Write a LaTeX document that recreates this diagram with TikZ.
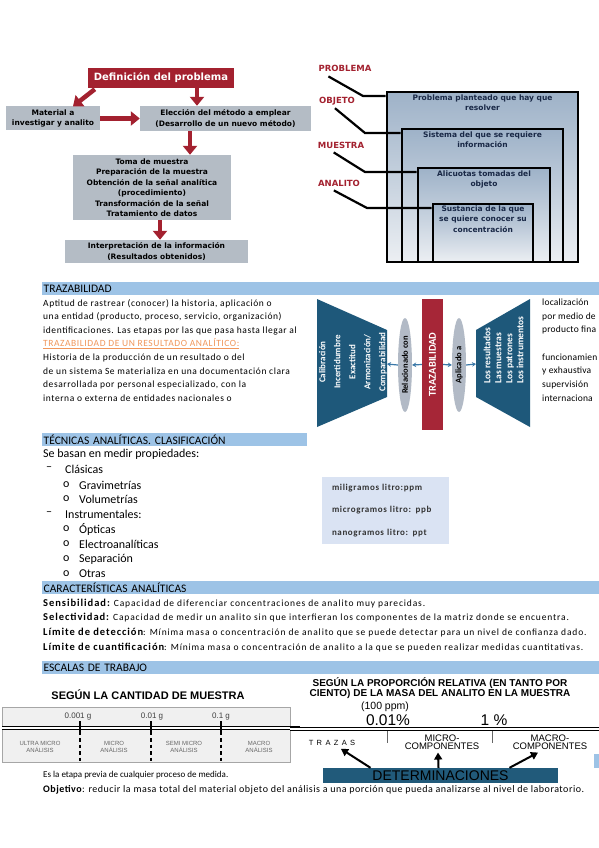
\documentclass[tikz,border=0pt]{standalone}
\usepackage{fontspec}
\setmainfont{Carlito}
\newfontfamily\verdfont{DejaVu Sans}
\newfontfamily\arialfont{Liberation Sans}
\usetikzlibrary{positioning,shapes.geometric,arrows.meta}

\definecolor{probred}{RGB}{163,33,47}
\definecolor{flowgray}{RGB}{180,188,197}
\definecolor{nestblue}{RGB}{158,178,200}
\definecolor{nestlow}{RGB}{236,239,243}
\definecolor{navytxt}{RGB}{25,40,70}
\definecolor{headblue}{RGB}{157,195,230}
\definecolor{trapblue}{RGB}{30,88,122}
\definecolor{ellgray}{RGB}{178,186,198}
\definecolor{trazred}{RGB}{166,38,55}
\definecolor{arrblue}{RGB}{58,120,168}
\definecolor{unitblue}{RGB}{218,227,243}
\definecolor{linkorange}{RGB}{240,150,90}
\definecolor{detblue}{RGB}{33,90,122}

\newcommand{\fsz}[2]{\fontsize{#1}{#2}\selectfont}
\newcommand{\spaced}[1]{\addfontfeature{LetterSpace=#1}}

\begin{document}
\begin{tikzpicture}[x=1pt, y=-1pt, every node/.style={inner sep=0pt},
  redbox/.style={fill=probred, text=white, minimum width=146, minimum height=20, font=\verdfont\bfseries\fsz{10}{12}},
  flowbox/.style={fill=flowgray, align=center, font=\verdfont\bfseries\fsz{7.5}{10.5}},
  redarrow/.style={probred, line width=4.5, -{Triangle[length=9pt, width=14pt]}},
  lbltxt/.style={text=probred, font=\verdfont\bfseries\fsz{8.5}{10}},
  lblline/.style={line width=2.2},
  nestbox/.style={draw=black, line width=2.6, top color=nestblue, bottom color=nestlow},
  nesttxt/.style={anchor=north, text=navytxt, align=center, font=\verdfont\bfseries\fsz{7.5}{10.3}},
  headbar/.style={fill=headblue, anchor=north west, minimum height=13, inner xsep=1.5, align=left, font=\fsz{11.5}{11.5}},
  bodytxt/.style={anchor=west, font=\fsz{9.5}{13.6}\spaced{6}},
  caractxt/.style={anchor=west, font=\fsz{9.5}{12}\spaced{9}},
  listtxt/.style={anchor=west, font=\fsz{12}{12}},
  traptxt/.style={text=white, align=center, font=\bfseries\fsz{9}{15}},
  ellnode/.style={ellipse, fill=ellgray, minimum width=94, minimum height=14, font=\bfseries\fsz{8.5}{10}},
  bluearrow/.style={arrblue, line width=1.2, -{Stealth[length=4pt, width=4.5pt]}},
  unitbox/.style={fill=unitblue, minimum width=127, minimum height=67, text width=107, align=left, text=black!80, font=\bfseries\fsz{9}{22.5}\spaced{7}},
  esctitle/.style={align=center, font=\arialfont\bfseries\fsz{10}{10}},
  scalelbl/.style={text=black!75, font=\arialfont\fsz{8}{9}},
  smalllbl/.style={text=black!60, align=center, font=\arialfont\fsz{6}{6.5}},
  complbl/.style={align=center, font=\arialfont\fsz{9.5}{8}},
  scaleline/.style={double, double distance=2.6pt, line width=0.9},
  blkarrow/.style={line width=2, -{Triangle[length=7pt, width=8pt]}}]

\useasboundingbox (0,0) rectangle (599,848);
\fill[white] (0,0) rectangle (599,848);
\clip (0,0) rectangle (599,848);

% ----------------------------------------------------
% 1. Definición del problema
% ----------------------------------------------------
\node[redbox] (defprob) at (161,78) {Definición del problema};
\node[flowbox, minimum width=94, minimum height=24] (material) at (53,118.5) {Material a\\investigar y analito};
\node[flowbox, minimum width=171, minimum height=25] (eleccion) at (225.5,118.5) {Elección del método a emplear\\(Desarrollo de un nuevo método)};
\node[flowbox, minimum width=158, minimum height=65] (toma) at (152,187.5) {Toma de muestra\\Preparación de la muestra\\Obtención de la señal analítica\\(procedimiento)\\Transformación de la señal\\Tratamiento de datos};
\node[flowbox, minimum width=183, minimum height=23] (interp) at (156.5,251.5) {Interpretación de la información\\(Resultados obtenidos)};

\draw[redarrow] ([xshift=7,yshift=-1]defprob.south west) -- ([xshift=20]material.north);
\draw[redarrow] ([xshift=36]defprob.south) -- ([xshift=36]defprob.south |- eleccion.north);
\draw[redarrow] (material.east) -- (eleccion.west);
\draw[redarrow] ([xshift=-35.5]eleccion.south) -- ([xshift=-35.5]eleccion.south |- toma.north);
\draw[redarrow] ([xshift=8]toma.south) -- ([xshift=8]toma.south |- interp.north);

% ----------------------------------------------------
% 2. Problema, objeto, muestra, analito
% ----------------------------------------------------
\node[nestbox, minimum width=191, minimum height=170] (boxproblema) at (482.5,177) {};
\node[nestbox, minimum width=161, minimum height=133] (boxobjeto) at (482.5,195.5) {};
\node[nestbox, minimum width=132, minimum height=94] (boxmuestra) at (484,215) {};
\node[nestbox, minimum width=100, minimum height=58] (boxanalito) at (483,233) {};

\node[nesttxt] (txtproblema) at ([yshift=-4]boxproblema.north) {Problema planteado que hay que\\resolver};
\node[nesttxt] (txtobjeto) at ([yshift=-4]boxobjeto.north) {Sistema del que se requiere\\información};
\node[nesttxt] (txtmuestra) at ([yshift=-4]boxmuestra.north) {Alicuotas tomadas del\\objeto};
\node[nesttxt] (txtanalito) at ([yshift=-3]boxanalito.north) {Sustancia de la que\\se quiere conocer su\\concentración};

\node[lbltxt] (lblproblema) at (345,68) {PROBLEMA};
\node[lbltxt] (lblobjeto) at (337,101) {OBJETO};
\node[lbltxt] (lblmuestra) at (341,145) {MUESTRA};
\node[lbltxt] (lblanalito) at (339,183) {ANALITO};

\coordinate (kproblema) at (363,96);
\coordinate (kobjeto) at (365,133);
\coordinate (kmuestra) at (365,172);
\coordinate (kanalito) at (367,208);
\draw[lblline] ([xshift=10,yshift=-5]lblproblema.south west) -- (kproblema) -- (kproblema -| boxproblema.west);
\draw[lblline] ([xshift=16,yshift=-3]lblobjeto.south west) -- (kobjeto) -- (kobjeto -| boxobjeto.west);
\draw[lblline] ([xshift=16,yshift=-4]lblmuestra.south west) -- (kmuestra) -- (kmuestra -| boxmuestra.west);
\draw[lblline] ([xshift=16,yshift=-4]lblanalito.south west) -- (kanalito) -- (kanalito -| boxanalito.west);

% ----------------------------------------------------
% 3. Trazabilidad
% ----------------------------------------------------
\node[headbar, text width=557] (hdtraz) at (42,282) {TRAZABILIDAD};

\node[bodytxt, anchor=north west, align=left] (partraz) at (43,299) {Aptitud de rastrear (conocer) la historia, aplicación o\\
una entidad (producto, proceso, servicio, organización)\\
identificaciones. Las etapas por las que pasa hasta llegar al\\
{\color{linkorange}\underline{TRAZABILIDAD DE UN RESULTADO ANALÍTICO:}}\\
Historia de la producción de un resultado o del\\
de un sistema Se materializa en una documentación clara\\
desarrollada por personal especializado, con la\\
interna o externa de entidades nacionales o};

% texto cortado en el borde de la pagina
\node[bodytxt, anchor=north west, align=left, font=\fsz{9.5}{13.6}\spaced{2}] (partrazder) at (542,299) {localización\\
por medio de\\
producto fina\\
\mbox{}\\
funcionamien\\
y exhaustiva\\
supervisión\\
internaciona};

\fill[trapblue] (317,299) -- (387,330) -- (387,397) -- (317,427) -- cycle;
\fill[trapblue] (476,330) -- (530,299) -- (530,427) -- (476,397) -- cycle;
\coordinate (trapizq) at (387,364);
\coordinate (trapder) at (476,364);

\node[traptxt, rotate=90] (txtizq) at (353,362) {Calibración\\Incertidumbre\\Exactitud\\Armonización/\\Comparabilidad};
\node[traptxt, rotate=90, align=left, font=\bfseries\fsz{9.5}{11}] (txtder) at (503.5,350) {Los resultados\\Las muestras\\Los patrones\\Los instrumentos};

\node[ellnode, rotate=90] (relcon) at (405,365) {Relacionado con};
\node[fill=trazred, text=white, minimum width=131, minimum height=21, font=\bfseries\fsz{10.5}{12}, rotate=90] (trazbar) at (432.5,364.5) {TRAZABILIDAD};
\node[ellnode, rotate=90] (aplic) at (459,365) {Aplicado a};

\draw[bluearrow] (trazbar.north) -- (relcon.south);
\draw[bluearrow] (relcon.north) -- (trapizq);
\draw[bluearrow] (trazbar.south) -- (aplic.north);
\draw[bluearrow] (aplic.south) -- (trapder);

% ----------------------------------------------------
% 4. Técnicas analíticas
% ----------------------------------------------------
\node[headbar, text width=262] (hdtec) at (42,433) {TÉCNICAS ANALÍTICAS. CLASIFICACIÓN};

\node[listtxt] (intro) at (43,454) {Se basan en medir propiedades:};
\node[listtxt] (guionclas) at (46,469) {--};
\node[listtxt] (clasicas) at (65,469) {Clásicas};
\node[listtxt] (bulgrav) at (63,485) {o};
\node[listtxt] (grav) at (79,485) {Gravimetrías};
\node[listtxt] (bulvol) at (63,499) {o};
\node[listtxt] (vol) at (79,499) {Volumetrías};
\node[listtxt] (guioninst) at (46,514) {--};
\node[listtxt] (instrum) at (65,514) {Instrumentales:};
\node[listtxt] (bulopt) at (63,529) {o};
\node[listtxt] (opticas) at (79,529) {Ópticas};
\node[listtxt] (bulelec) at (63,544) {o};
\node[listtxt] (electro) at (79,544) {Electroanalíticas};
\node[listtxt] (bulsep) at (63,559) {o};
\node[listtxt] (separ) at (79,559) {Separación};
\node[listtxt] (bulotr) at (63,574) {o};
\node[listtxt] (otras) at (79,574) {Otras};

\node[unitbox] (unidades) at (385.5,510.5) {miligramos litro:ppm\\microgramos litro: ppb\\nanogramos litro: ppt};

% ----------------------------------------------------
% 5. Características analíticas
% ----------------------------------------------------
\node[headbar, text width=557] (hdcarac) at (42,581) {CARACTERÍSTICAS ANALÍTICAS};

\node[caractxt] (sensib) at (43,604) {{\bfseries\fsz{10.5}{12}Sensibilidad:} Capacidad de diferenciar concentraciones de analito muy parecidas.};
\node[caractxt] (selec) at (43,618) {{\bfseries\fsz{10.5}{12}Selectividad:} Capacidad de medir un analito sin que interfieran los componentes de la matriz donde se encuentra.};
\node[caractxt] (limdet) at (43,633) {{\bfseries\fsz{10.5}{12}Límite de detección}: Mínima masa o concentración de analito que se puede detectar para un nivel de confianza dado.};
\node[caractxt] (limcuan) at (43,648) {{\bfseries\fsz{10.5}{12}Límite de cuantificación}: Mínima masa o concentración de analito a la que se pueden realizar medidas cuantitativas.};

% ----------------------------------------------------
% 6. Escalas de trabajo
% ----------------------------------------------------
\node[headbar, text width=557] (hdescal) at (42,661) {ESCALAS DE TRABAJO};

\node[esctitle, font=\arialfont\bfseries\fsz{11}{11}] (titmuestra) at (148,695) {SEGÚN LA CANTIDAD DE MUESTRA};
\node[draw=black!35, fill=black!6, minimum width=288, minimum height=55] (cajamuestra) at (146,734.5) {};
\coordinate (linizq) at (2,728);
\coordinate (linder) at (300,728);
\draw[scaleline] (linizq) -- (linder);

\node[scalelbl] (m0001) at (78,717) {0.001 g};
\node[scalelbl] (m001) at (152,717) {0.01 g};
\node[scalelbl] (m01) at (221,717) {0.1 g};
\draw[line width=1.4] (80,721) -- (80,735);
\draw[line width=1.4] (151,721) -- (151,735);
\draw[line width=1.4] (221,721) -- (221,735);
\draw[line width=1.4, dash pattern=on 3.5pt off 3pt] (80,738) -- (80,761);
\draw[line width=1.4, dash pattern=on 3.5pt off 3pt] (151,738) -- (151,761);
\draw[line width=1.4, dash pattern=on 3.5pt off 3pt] (221,738) -- (221,761);

\node[smalllbl] (ultramicro) at (40,747) {ULTRA MICRO\\ANÁLISIS};
\node[smalllbl] (micro) at (114,747) {MICRO\\ANÁLISIS};
\node[smalllbl] (semimicro) at (184,747) {SEMI MICRO\\ANÁLISIS};
\node[smalllbl] (macro) at (259,747) {MACRO\\ANÁLISIS};

\node[esctitle] (titprop) at (440,688) {SEGÚN LA PROPORCIÓN RELATIVA (EN TANTO POR\\CIENTO) DE LA MASA DEL ANALITO EN LA MUESTRA};
\node[font=\arialfont\fsz{10.5}{11}] (ppm100) at (385,707) {(100 ppm)};
\node[font=\arialfont\fsz{15.5}{16}] (pct001) at (388,720) {0.01\%};
\node[font=\arialfont\fsz{15.5}{16}] (pct1) at (494,720) {1 \%};
\coordinate (linpizq) at (290,729);
\coordinate (linpder) at (599,729);
\draw[scaleline] (linpizq) -- (linpder);
\draw[black!60, line width=0.8] (387,731) -- (387,743);
\draw[black!60, line width=0.8] (492,731) -- (492,743);

\node[complbl, font=\arialfont\fsz{7.5}{7.5}\spaced{45}] (trazas) at (332,743) {TRAZAS};
\node[complbl] (microcomp) at (442,742) {MICRO-\\COMPONENTES};
\node[complbl] (macrocomp) at (550,742) {MACRO-\\COMPONENTES};

\node[fill=detblue, minimum width=235, minimum height=15, font=\arialfont\fsz{14}{14}] (determ) at (440.5,775.5) {DETERMINACIONES};
\draw[blkarrow] ([xshift=-70]determ.north) -- ([xshift=9,yshift=-3]trazas.south);
\draw[blkarrow] ([xshift=-2]determ.north) -- ([xshift=-4,yshift=-3]microcomp.south);
\draw[blkarrow] ([xshift=69]determ.north) -- ([xshift=-12,yshift=-3]macrocomp.south);
\fill[headblue] (594,754) rectangle (600,768);

\node[bodytxt, font=\fsz{9}{12}] (etapa) at (43,775) {Es la etapa previa de cualquier proceso de medida.};
\node[bodytxt, font=\fsz{10}{12}\spaced{5}] (objetivo) at (43,790) {\textbf{Objetivo}: reducir la masa total del material objeto del análisis a una porción que pueda analizarse al nivel de laboratorio.};

\end{tikzpicture}
\end{document}
